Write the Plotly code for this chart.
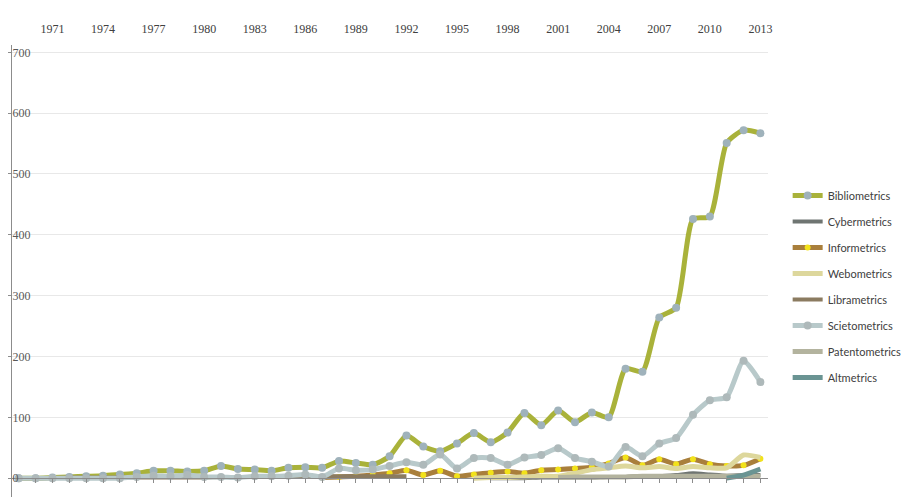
import plotly.graph_objects as go

years = list(range(1969, 2014))

bibliometrics = [0, 0, 1, 2, 3, 4, 6, 8, 12, 12, 11, 12, 20, 15, 14, 12, 17, 18, 17, 28,
                 25, 22, 36, 70, 52, 44, 57, 74, 59, 75, 107, 87, 111, 92, 108, 100,
                 180, 175, 264, 280, 426, 430, 551, 572, 567]
cybermetrics = [None] * 28 + [0, 0, 0, 1, 1, 1, 1, 2, 2, 3, 3, 5, 8, 6, 4, 5, 5]
informetrics = [None] * 18 + [1, 2, 3, 5, 8, 13, 5, 12, 3, 6, 9, 11, 8, 13, 14, 16, 18, 24,
                              34, 21, 31, 23, 31, 23, 20, 21, 32]
webometrics = [None] * 27 + [0, 1, 1, 2, 3, 3, 8, 14, 17, 20, 17, 19, 16, 19, 17, 17, 38, 34]
librametrics = [0, 0, 0, 1, 1, 1, 1, 1, 1, 1, 1, 1, 2, 2, 2, 2, 2, 2, 3, 3, 3, 3, 3, 3,
                None, None, None, None, None, None, None, None, None, None, None, None,
                None, None, None, None, None, None, None, None, None]
scietometrics = [0, 0, 0, 0, 0, 0, 0, 2, 4, 3, 5, 2, 2, 1, 3, 3, 4, 6, 2, 16, 13, 14, 20,
                 26, 22, 39, 16, 33, 33, 22, 34, 38, 49, 33, 27, 19, 51, 36, 57, 66, 104,
                 128, 133, 193, 158]
patentometrics = [None] * 32 + [1, 2, 2, 2, 2, 3, 3, 3, 3, 3, 3, 3, 3]
altmetrics = [None] * 42 + [0, 5, 15]

series = [
    ("Bibliometrics", bibliometrics, "#a9b23a", 5, dict(size=8, color="#9fb2bb")),
    ("Cybermetrics", cybermetrics, "#6f7572", 4, None),
    ("Informetrics", informetrics, "#a97f3c", 5, dict(size=6, color="#f2e21a")),
    ("Webometrics", webometrics, "#ddd79c", 5, None),
    ("Librametrics", librametrics, "#8b7b60", 4, None),
    ("Scietometrics", scietometrics, "#b8c9ca", 5, dict(size=8, color="#aeb9ba")),
    ("Patentometrics", patentometrics, "#b3b39e", 5, None),
    ("Altmetrics", altmetrics, "#6a9493", 5, None),
]

fig = go.Figure()
for name, vals, col, w, mk in series:
    fig.add_trace(go.Scatter(
        x=years, y=vals, name=name, legendgroup=name,
        mode="lines+markers" if mk else "lines",
        line=dict(color=col, width=w, shape="spline", smoothing=0.6),
        marker=mk, connectgaps=False,
    ))

# dummy trace for the bottom tick axis
fig.add_trace(go.Scatter(x=[None], y=[None], xaxis="x2", showlegend=False, hoverinfo="skip"))

xr = [1968.6, 2013.45]
yr = [-31, 712]

fig.update_layout(
    width=913, height=499,
    margin=dict(l=4, r=153, t=37, b=10),
    paper_bgcolor="white", plot_bgcolor="white",
    showlegend=True,
    legend=dict(x=1.026, y=0.699, xanchor="left", yanchor="top",
                font=dict(family="Lato", size=11, color="#404040"),
                tracegroupgap=7, itemwidth=30, traceorder="grouped",
                bgcolor="rgba(0,0,0,0)"),
    xaxis=dict(range=xr, side="top", tickvals=list(range(1971, 2014, 3)),
               ticktext=[str(y) for y in range(1971, 2014, 3)],
               showgrid=False, showline=False, zeroline=False, automargin=False,
               ticks="outside", ticklen=6, tickcolor="rgba(0,0,0,0)",
               tickfont=dict(family="Liberation Serif", size=12, color="#404040")),
    xaxis2=dict(range=xr, overlaying="x", anchor="free",
                position=(0 - yr[0]) / (yr[1] - yr[0]),
                showticklabels=False, showgrid=False, zeroline=False, automargin=False,
                showline=True, linecolor="#8c8c8c", linewidth=1,
                ticks="outside", ticklen=4, tickcolor="#8c8c8c",
                tick0=1969, dtick=1),
    yaxis=dict(range=yr, tickvals=list(range(0, 701, 100)), automargin=False,
               showgrid=True, gridcolor="#e8e8e8", gridwidth=1, zeroline=False,
               showline=True, linecolor="#8c8c8c", linewidth=1,
               ticks="outside", ticklen=4, tickcolor="#8c8c8c",
               ticklabelposition="inside",
               tickfont=dict(family="Liberation Serif", size=12, color="#595959")),
)

fig.write_html("out.html")
